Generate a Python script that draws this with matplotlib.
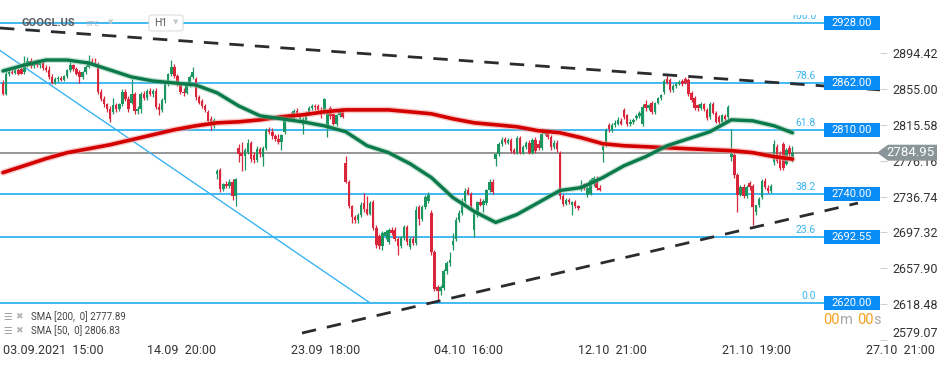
import matplotlib
matplotlib.use("Agg")
import matplotlib.pyplot as plt
import matplotlib.transforms as mtransforms
from matplotlib.patches import Rectangle, Polygon, FancyBboxPatch
import numpy as np

plt.rcParams['font.family'] = ['Roboto', 'DejaVu Sans']

# ---------------- data (H1 candles, 7 per trading day) ----------------
O = [2862,2850,2872,2874,2873,2876,2877,
     2874,2884,2886,2880,2885,2881,2884,
     2878,2876,2868,2862,2866,2867,2865,
     2869,2876,2881,2877,2874,2868,2874,
     2879,2886,2884,2883,2852,2844,2838,
     2833,2830,2837,2833,2838,2852,2844,
     2840,2850,2831,2833,2849,2845,2853,
     2849,2853,2835,2832,2843,2860,2871,
     2879,2869,2860,2852,2851,2859,2868,
     2866,2846,2842,2836,2830,2822,2814,
     2762,2766,2745,2750,2748,2753,2737,
     2790,2785,2781,2786,2796,2782,2777,
     2789,2780,2790,2810,2808,2803,2800,
     2797,2808,2823,2826,2822,2831,2822,
     2815,2820,2829,2834,2836,2836,2832,
     2830,2812,2834,2827,2816,2826,2830,
     2774,2753,2726,2714,2711,2716,2730,
     2723,2718,2731,2702,2693,2682,2693,
     2687,2700,2700,2690,2682,2691,2703,
     2681,2690,2686,2725,2712,2725,2732,
     2719,2676,2637,2633,2636,2655,2664,
     2683,2690,2711,2719,2732,2744,2740,
     2700,2716,2731,2727,2730,2744,2753,
     2778,2783,2794,2800,2796,2799,2788,
     2785,2801,2785,2791,2796,2785,2799,
     2795,2790,2806,2808,2802,2791,2796,
     2785,2737,2729,2733,2728,2731,2726,
     2746,2750,2738,2740,2750,2756,2746,
     2788,2793,2815,2810,2815,2817,2820,
     2832,2826,2816,2819,2823,2825,2816,
     2838,2834,2840,2830,2840,2845,2852,
     2866,2865,2854,2858,2861,2864,2866,
     2865,2851,2845,2837,2834,2838,2832,
     2824,2839,2829,2824,2819,2825,2824,
     2780,2782,2760,2739,2747,2737,2752,
     2748,2720,2727,2736,2754,2746,2743,
     2775,2791,2783,2795,2773,2790,2777]
H = [2865,2875,2876,2877,2878,2878,2879,
     2891,2890,2889,2887,2888,2886,2887,
     2881,2880,2871,2868,2869,2869,2870,
     2877,2885,2883,2879,2876,2875,2881,
     2892,2889,2889,2885,2855,2847,2840,
     2836,2845,2840,2840,2855,2855,2847,
     2866,2852,2836,2852,2853,2855,2856,
     2855,2856,2840,2845,2862,2873,2887,
     2882,2871,2863,2856,2862,2870,2879,
     2868,2848,2844,2838,2832,2825,2823,
     2767,2768,2752,2754,2756,2756,2757,
     2795,2797,2790,2800,2798,2786,2792,
     2791,2792,2812,2813,2812,2806,2806,
     2806,2826,2828,2830,2833,2834,2828,
     2824,2831,2836,2838,2839,2838,2835,
     2845,2832,2836,2829,2828,2834,2834,
     2781,2755,2728,2716,2719,2731,2741,
     2737,2732,2733,2705,2696,2699,2700,
     2702,2703,2703,2692,2693,2705,2706,
     2692,2693,2726,2728,2727,2739,2742,
     2722,2678,2640,2640,2657,2666,2676,
     2697,2714,2722,2735,2746,2747,2742,
     2720,2732,2735,2734,2745,2756,2756,
     2784,2797,2802,2802,2801,2801,2790,
     2803,2803,2793,2798,2799,2801,2802,
     2799,2812,2810,2811,2804,2799,2799,
     2787,2740,2735,2735,2732,2733,2728,
     2755,2752,2748,2757,2759,2759,2749,
     2796,2812,2818,2818,2821,2824,2823,
     2834,2828,2822,2823,2827,2831,2838,
     2843,2839,2842,2841,2846,2850,2866,
     2872,2867,2860,2863,2865,2866,2868,
     2867,2853,2847,2839,2841,2840,2834,
     2841,2841,2831,2826,2828,2828,2837,
     2811,2785,2763,2749,2750,2749,2754,
     2750,2728,2736,2756,2757,2749,2750,
     2799,2794,2787,2797,2790,2793,2792]
L = [2848,2848,2869,2871,2871,2870,2871,
     2872,2879,2878,2878,2879,2878,2876,
     2874,2866,2860,2860,2863,2864,2864,
     2867,2874,2875,2870,2862,2866,2872,
     2878,2882,2880,2850,2842,2835,2830,
     2819,2828,2830,2831,2836,2842,2830,
     2838,2828,2828,2829,2843,2843,2847,
     2846,2833,2826,2830,2840,2858,2869,
     2867,2858,2850,2847,2849,2857,2866,
     2843,2838,2834,2830,2818,2810,2812,
     2756,2742,2743,2746,2746,2733,2726,
     2775,2765,2766,2783,2775,2774,2775,
     2780,2770,2788,2805,2800,2798,2795,
     2788,2806,2820,2820,2820,2825,2819,
     2805,2818,2827,2832,2832,2830,2823,
     2828,2802,2822,2815,2814,2824,2823,
     2752,2724,2708,2708,2708,2714,2720,
     2716,2716,2700,2680,2679,2678,2690,
     2685,2695,2688,2673,2680,2689,2684,
     2679,2683,2684,2706,2710,2723,2730,
     2673,2633,2621,2628,2634,2652,2660,
     2678,2688,2709,2717,2730,2739,2724,
     2692,2714,2726,2720,2728,2742,2740,
     2770,2781,2792,2794,2794,2785,2784,
     2783,2784,2783,2789,2783,2783,2785,
     2788,2788,2804,2800,2788,2789,2786,
     2734,2726,2727,2729,2717,2724,2722,
     2743,2744,2736,2738,2748,2744,2743,
     2775,2791,2808,2808,2813,2815,2815,
     2822,2814,2814,2817,2821,2823,2814,
     2831,2832,2828,2828,2838,2843,2850,
     2860,2852,2852,2856,2859,2858,2860,
     2847,2841,2832,2831,2832,2831,2821,
     2822,2827,2818,2817,2817,2820,2822,
     2776,2757,2720,2737,2735,2735,2744,
     2706,2716,2725,2734,2745,2741,2741,
     2771,2774,2766,2766,2771,2780,2775]
C = [2850,2872,2874,2873,2876,2871,2872,
     2884,2886,2880,2885,2881,2884,2878,
     2876,2868,2862,2866,2867,2865,2869,
     2876,2881,2877,2872,2868,2874,2879,
     2886,2884,2883,2852,2844,2838,2833,
     2822,2837,2833,2838,2852,2844,2833,
     2850,2831,2833,2849,2845,2853,2849,
     2853,2835,2832,2843,2860,2871,2879,
     2869,2860,2852,2851,2859,2868,2874,
     2846,2840,2836,2832,2820,2814,2821,
     2765,2745,2750,2748,2753,2737,2756,
     2784,2781,2788,2796,2778,2777,2789,
     2783,2790,2810,2808,2803,2800,2797,
     2804,2823,2826,2822,2831,2827,2826,
     2822,2829,2834,2836,2835,2832,2826,
     2844,2830,2825,2816,2826,2830,2824,
     2753,2726,2714,2711,2716,2728,2723,
     2718,2730,2702,2683,2682,2697,2698,
     2700,2697,2690,2682,2691,2703,2687,
     2690,2686,2722,2712,2725,2736,2738,
     2676,2635,2633,2637,2655,2664,2667,
     2688,2711,2719,2732,2743,2740,2726,
     2719,2731,2728,2732,2744,2753,2742,
     2783,2794,2799,2797,2799,2787,2785,
     2801,2785,2791,2796,2785,2799,2787,
     2790,2806,2808,2802,2791,2796,2789,
     2737,2729,2733,2731,2731,2726,2724,
     2749,2746,2746,2755,2757,2746,2744,
     2793,2810,2811,2815,2818,2821,2817,
     2824,2816,2819,2821,2825,2829,2835,
     2834,2837,2830,2840,2845,2848,2864,
     2862,2854,2858,2861,2863,2860,2862,
     2849,2843,2834,2834,2839,2833,2823,
     2839,2829,2819,2819,2826,2822,2835,
     2784,2760,2739,2747,2737,2747,2747,
     2725,2727,2734,2754,2747,2743,2748,
     2794,2776,2768,2768,2788,2783,2784.95]

# moving averages read at the start of each trading day (plus last bar)
sma_idx = list(range(0, 259, 7)) + [258]
SMA50 = [2874.8,2881.3,2886.8,2886.8,2883.5,2875.9,2868.2,2863.8,2861.6,2859.4,
         2850.7,2836.4,2825.5,2822.2,2818.9,2814.5,2808.0,2792.6,2785.0,2772.9,
         2757.6,2735.7,2720.4,2708.3,2717.1,2730.2,2743.4,2746.6,2757.6,2770.7,
         2780.6,2792.6,2800.3,2808.0,2821.1,2820.0,2814.5,2806.83]
SMA200 = [2763.1,2770.7,2778.4,2785.0,2789.3,2793.7,2799.2,2804.7,2810.2,2814.5,
          2817.8,2818.9,2821.1,2824.4,2826.6,2829.9,2832.0,2832.0,2832.0,2829.9,
          2827.7,2822.2,2817.8,2815.6,2813.4,2809.1,2806.9,2801.4,2794.8,2792.6,
          2791.5,2790.4,2789.3,2788.2,2787.2,2785.0,2780.6,2777.89]

fib_levels = [2928.00, 2862.00, 2810.00, 2740.00, 2692.55, 2620.00]
fib_ratios = ["100.0", "78.6", "61.8", "38.2", "23.6", "0.0"]
last_price = 2784.95
yticks = [2579.07, 2618.48, 2657.90, 2697.32, 2736.74, 2776.16, 2815.58, 2855.00, 2894.42]
xtick_idx = [0, 47, 94, 141, 188, 235, 282]
xtick_labels = ["03.09.2021  15:00", "14.09  20:00", "23.09  18:00", "04.10  16:00",
                "12.10  21:00", "21.10  19:00", "27.10  21:00"]
resistance_x, resistance_y = [-1, 286.6], [2922.0, 2854.0]
support_x, support_y = [97.7, 279.4], [2586.7, 2729.6]
fan_x, fan_y = [-1, 119.9], [2897.3, 2620.0]

# ---------------- figure ----------------
W, Hh = 950, 365
fig = plt.figure(figsize=(W / 100, Hh / 100), dpi=100)
fig.patch.set_facecolor('white')
AX_W = 880
ax = fig.add_axes([0, 25 / Hh, AX_W / W, 340 / Hh])
ax.set_xlim(-0.98, 286.6)
ax.set_ylim(2579.07, 2952.8)
for s in ax.spines.values():
    s.set_visible(False)

blend = mtransforms.blended_transform_factory(ax.transAxes, ax.transData)

def fx(px):
    return px / W

def fy(py):
    return 1 - py / Hh

# clip region hiding the very top strip (the "100.0" label is cut there)
top_clip = mtransforms.TransformedBbox(mtransforms.Bbox([[0, 0], [W, Hh - 15]]),
                                       mtransforms.IdentityTransform())

# fib horizontal lines
for lv, rt in zip(fib_levels, fib_ratios):
    ax.axhline(lv, xmin=0, xmax=824 / AX_W, color='#0ea5ef', lw=1.1, zorder=1)
    tr = mtransforms.offset_copy(blend, fig=fig, x=0, y=7, units='dots')
    t = ax.text(816 / AX_W, lv, rt, transform=tr, ha='right', va='center',
                fontsize=7.5, color='#3cb4f0', zorder=6, clip_on=True)
    t.set_clip_box(top_clip)
    ax.add_patch(Rectangle((824 / AX_W, lv - 7.7), 56 / AX_W, 15.4, transform=blend,
                           facecolor='#0a8cf6', edgecolor='none', zorder=7, clip_on=False))
    ax.text(852 / AX_W, lv, f"{lv:.2f}", transform=blend, ha='center', va='center',
            fontsize=8, color='white', zorder=8, clip_on=False)

# current price line
ax.axhline(last_price, color='#8e8e8e', lw=1.3, zorder=1.5)

# fan line
ax.plot(fan_x, fan_y, color='#3ab4f2', lw=1.0, zorder=2)

# candles
idx = np.arange(len(O))
Oa, Ha, La, Ca = map(np.asarray, (O, H, L, C))
up = Ca >= Oa
cols = np.where(up, '#1c9660', '#d9263b')
ax.vlines(idx, La, Ha, colors=cols, lw=0.9, zorder=3)
ax.bar(idx, np.maximum(np.abs(Ca - Oa), 0.9), bottom=np.minimum(Oa, Ca), width=0.8,
       color=cols, lw=0, zorder=3.1)

# SMA lines
ax.plot(sma_idx, SMA200, color='#f2a0a0', lw=4.6, alpha=0.55, zorder=4, solid_capstyle='round')
ax.plot(sma_idx, SMA200, color='#d40000', lw=2.6, zorder=4.1, solid_capstyle='round')
ax.plot(sma_idx, SMA50, color='#7fc0a0', lw=4.2, alpha=0.45, zorder=4.2, solid_capstyle='round')
ax.plot(sma_idx, SMA50, color='#0b7a4b', lw=2.4, zorder=4.3, solid_capstyle='round')

# trend lines
ax.plot(resistance_x, resistance_y, color='#2a2d30', lw=2.0, ls=(0, (5.2, 4.0)), zorder=5)
ax.plot(support_x, support_y, color='#2a2d30', lw=2.0, ls=(0, (5.2, 4.0)), zorder=5)

# right axis
ax.yaxis.tick_right()
ax.set_yticks(yticks)
ax.set_yticklabels([f"{v:.2f}" for v in yticks])
ax.tick_params(axis='y', right=True, left=False, length=5, width=0.8, color='#d0d0d0',
               pad=4, labelsize=9, labelcolor='#333333')
ax.yaxis.get_major_ticks()[0].label2.set_verticalalignment('bottom')
# the level hidden behind the price tag sits a little lower, as in the source
ax.yaxis.get_major_ticks()[5].label2.set_verticalalignment('center_baseline')

# x axis
ax.set_xticks(xtick_idx)
ax.set_xticklabels(xtick_labels)
ax.tick_params(axis='x', length=0, pad=3, labelsize=9, labelcolor='#333333')
for lbl in ax.get_xticklabels():
    lbl.set_horizontalalignment('left')

# current price tag
yc = last_price
dh = 8 * 1.0994
pts = [(877 / AX_W, yc), (888 / AX_W, yc + dh), (937 / AX_W, yc + dh),
       (937 / AX_W, yc - dh), (888 / AX_W, yc - dh)]
ax.add_patch(Polygon(pts, closed=True, transform=blend, facecolor='#8a9599',
                     edgecolor='none', zorder=20, clip_on=False))
ax.text(911 / AX_W, yc, f"{last_price:.2f}", transform=blend, ha='center', va='center',
        fontsize=9.5, color='white', zorder=21, clip_on=False)

# header
fig.text(fx(21), fy(23), "GOOGL.US", fontsize=8, fontweight='bold', color='#555b60', va='center')
fig.text(fx(86), fy(24), "STC", fontsize=5.5, color='#b0b4b8', va='center')
fig.text(fx(108), fy(22), "▼", fontsize=5, color='#c8cbce', va='center', family=['DejaVu Sans'])
fig.patches.append(FancyBboxPatch((fx(149), fy(31)), fx(34), 16 / Hh,
                                  boxstyle="round,pad=0,rounding_size=0.004",
                                  transform=fig.transFigure, facecolor='white',
                                  edgecolor='#dedede', lw=0.8, zorder=0.5))
fig.text(fx(154), fy(23), "H1", fontsize=7.5, color='#555b60', va='center')
fig.text(fx(173), fy(22), "▼", fontsize=5, color='#c8cbce', va='center', family=['DejaVu Sans'])

# legend (bottom-left)
for i, txt in enumerate(["SMA [200,  0] 2777.89", "SMA [50,  0] 2806.83"]):
    yy = 317 + 14 * i
    fig.text(fx(3), fy(yy), "☰", fontsize=7, color='#a0a0a0', va='center', family=['DejaVu Sans'])
    fig.text(fx(15), fy(yy), "✖", fontsize=6.5, color='#b5b5b5', va='center', family=['DejaVu Sans'])
    fig.text(fx(31), fy(yy), txt, fontsize=7, color='#444444', va='center')

# countdown
fig.text(fx(823), fy(320), "00", fontsize=10.5, color='#f5a020', va='center')
fig.text(fx(840), fy(320), "m", fontsize=10.5, color='#a8a8a8', va='center')
fig.text(fx(857), fy(320), "00", fontsize=10.5, color='#f5a020', va='center')
fig.text(fx(873), fy(320), "s", fontsize=10.5, color='#a8a8a8', va='center')

fig.savefig("out.png", dpi=100, facecolor='white')
